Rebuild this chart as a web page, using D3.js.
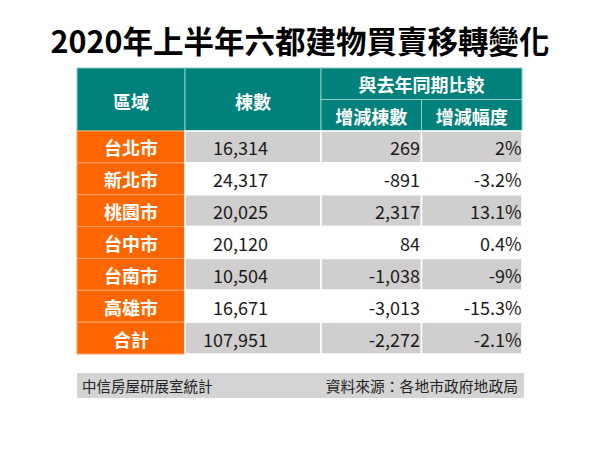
<!DOCTYPE html>
<html><head><meta charset="utf-8">
<script src="https://cdn.jsdelivr.net/npm/d3@7"></script>
<style>html,body{margin:0;padding:0;background:#fff;}svg{display:block;}</style>
</head><body>
<svg id="c" width="600" height="450"></svg>
<script>
const title = "2020年上半年六都建物買賣移轉變化";
const headerMain = ["區域", "棟數", "與去年同期比較"];
const headerSub = ["增減棟數", "增減幅度"];
const cities = ["台北市","新北市","桃園市","台中市","台南市","高雄市","合計"];
const counts = [16314, 24317, 20025, 20120, 10504, 16671, 107951];
const changes = [269, -891, 2317, 84, -1038, -3013, -2272];
const pcts = [2, -3.2, 13.1, 0.4, -9, -15.3, -2.1];
const footLeft = "中信房屋研展室統計";
const footRight = "資料來源：各地市政府地政局";

(function(){
const font = "'Noto Sans CJK TC','Noto Sans',sans-serif";
const teal = "#00817b", orange = "#ff6600", gray = "#d0cece";
const fmt = d3.formatLocale({decimal:".", thousands:",", grouping:[3], currency:["",""], minus:"-"}).format(",");

const svg = d3.select("#c");
const colEdges = [77, 185, 321, 421.5, 522];
const headTop = 68, headMid = 99.5, headBot = 131, tableBot = 354;

const y = d3.scaleBand().domain(d3.range(cities.length)).range([headBot, tableBot]);

svg.append("text").attr("x", 300).attr("y", 52.5).attr("text-anchor", "middle")
  .attr("font-family", font).attr("font-weight", 700).attr("font-size", 30.5)
  .attr("fill", "#000").text(title);

const g = svg.append("g");
const hdr = [
  {x0: colEdges[0], x1: colEdges[1], y0: headTop, y1: headBot, t: headerMain[0], dy: 9},
  {x0: colEdges[1], x1: colEdges[2], y0: headTop, y1: headBot, t: headerMain[1], dy: 9},
  {x0: colEdges[2], x1: colEdges[4], y0: headTop, y1: headMid, t: headerMain[2], dy: 8.5},
  {x0: colEdges[2], x1: colEdges[3], y0: headMid, y1: headBot, t: headerSub[0], dy: 9},
  {x0: colEdges[3], x1: colEdges[4], y0: headMid, y1: headBot, t: headerSub[1], dy: 9},
];
g.selectAll("rect.h").data(hdr).join("rect").attr("class","h")
  .attr("x", d => d.x0).attr("y", d => d.y0).attr("width", d => d.x1 - d.x0).attr("height", d => d.y1 - d.y0)
  .attr("fill", teal).attr("stroke", "#8fcac6").attr("stroke-width", 1);
g.selectAll("text.h").data(hdr).join("text").attr("class","h")
  .attr("x", d => (d.x0 + d.x1) / 2).attr("y", d => (d.y0 + d.y1) / 2 + d.dy)
  .attr("text-anchor", "middle").attr("font-family", font).attr("font-weight", 700)
  .attr("font-size", 18).attr("fill", "#fff").text(d => d.t);

const rows = g.selectAll("g.r").data(cities.map((c, i) => ({c, i}))).join("g").attr("class","r");
rows.append("rect").attr("x", colEdges[0]).attr("y", d => y(d.i)).attr("width", colEdges[1]-colEdges[0])
  .attr("height", y.bandwidth()).attr("fill", orange).attr("stroke", "#ffa366").attr("stroke-width", 1);
for (let k = 1; k < 4; k++) {
  rows.append("rect").attr("x", colEdges[k]).attr("y", d => y(d.i)).attr("width", colEdges[k+1]-colEdges[k])
    .attr("height", y.bandwidth()).attr("fill", d => d.i % 2 === 0 ? gray : "#fff")
    .attr("stroke", "#fff").attr("stroke-width", 1.5);
}
const ty = d => y(d.i) + y.bandwidth() / 2 + 8.5;
rows.append("text").attr("x", (colEdges[0]+colEdges[1])/2).attr("y", ty).attr("text-anchor","middle")
  .attr("font-family", font).attr("font-weight", 700).attr("font-size", 18).attr("fill", "#fff").text(d => d.c);
rows.append("text").attr("x", 268).attr("y", ty).attr("text-anchor","end")
  .attr("font-family", font).attr("font-size", 18).attr("fill", "#1a1a1a").text(d => fmt(counts[d.i]));
rows.append("text").attr("x", 420).attr("y", ty).attr("text-anchor","end")
  .attr("font-family", font).attr("font-size", 18).attr("fill", "#1a1a1a").text(d => fmt(changes[d.i]));
rows.append("text").attr("x", 521.5).attr("y", ty).attr("text-anchor","end")
  .attr("font-family", font).attr("font-size", 18).attr("fill", "#1a1a1a").text(d => pcts[d.i] + "%");

svg.append("rect").attr("x", 77).attr("y", 373).attr("width", 447).attr("height", 25).attr("fill", "#d4d4d4");
svg.append("text").attr("x", 82).attr("y", 391.5).attr("font-family", font).attr("font-size", 14.5)
  .attr("fill", "#222").text(footLeft);
svg.append("text").attr("x", 518).attr("y", 391.5).attr("text-anchor","end").attr("font-family", font).attr("font-size", 14.8)
  .attr("fill", "#222").text(footRight);
})();
</script>
</body></html>
